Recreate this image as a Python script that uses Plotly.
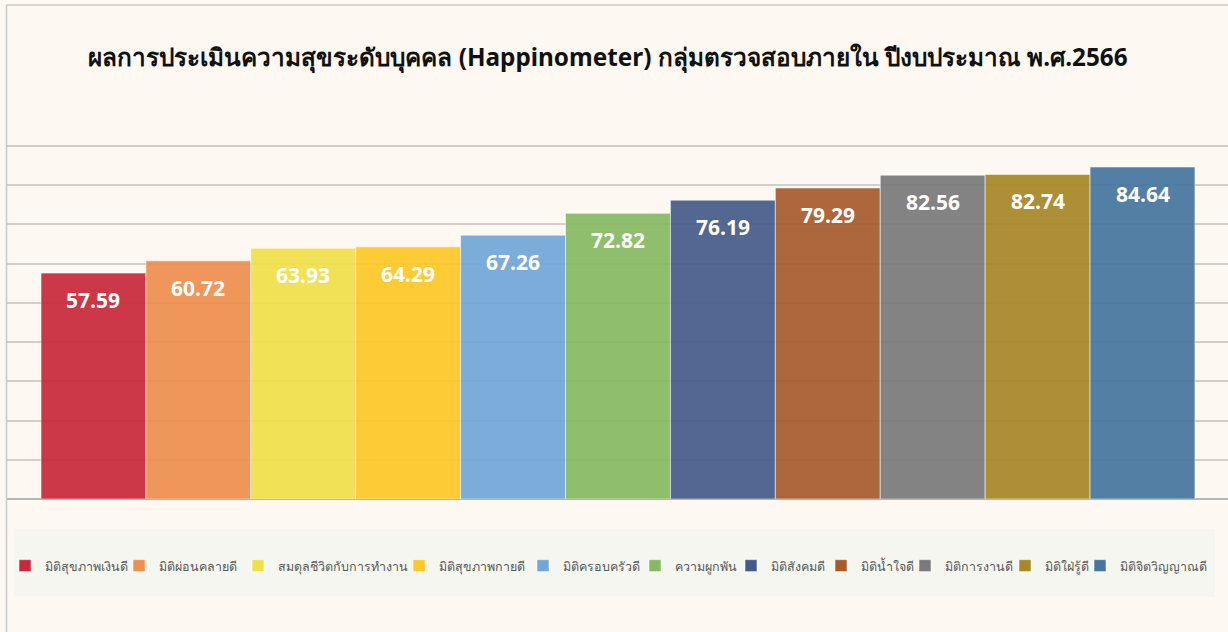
import plotly.graph_objects as go

title = "ผลการประเมินความสุขระดับบุคคล (Happinometer) กลุ่มตรวจสอบภายใน ปีงบประมาณ พ.ศ.2566"
categories = ["มิติสุขภาพเงินดี", "มิติผ่อนคลายดี", "สมดุลชีวิตกับการทำงาน", "มิติสุขภาพกายดี",
              "มิติครอบครัวดี", "ความผูกพัน", "มิติสังคมดี", "มิติน้ำใจดี",
              "มิติการงานดี", "มิติใฝ่รู้ดี", "มิติจิตวิญญาณดี"]
values = [57.59, 60.72, 63.93, 64.29, 67.26, 72.82, 76.19, 79.29, 82.56, 82.74, 84.64]
colors = ["#c9283a", "#ee8f4e", "#f0e04a", "#fec826", "#71a6d8", "#86b962",
          "#445b8a", "#a85a2e", "#7a7a7a", "#a78726", "#46759f"]
# legend marker positions (px) used for layout
legend_px = [25, 139, 258, 419, 543, 655, 751, 841, 925, 1025, 1100]

W, H = 1228, 632
L, R, T, B = 7, 0, 144, 133
pw, ph = W - L - R, H - T - B


def px_x(x):
    return (x - L) / pw


def px_y(y):
    return (H - B - y) / ph


fig = go.Figure()
annotations = []
legends = {}
for i, (name, v, c) in enumerate(zip(categories, values, colors)):
    lg = "legend" if i == 0 else f"legend{i + 1}"
    fig.add_trace(go.Bar(
        x=[i], y=[v], name=name, width=1, legend=lg,
        marker=dict(color=c, opacity=0.92, line=dict(color="rgba(255,255,255,0.55)", width=1)),
        hoverinfo="name+y",
    ))
    annotations.append(dict(
        x=i, y=v, xref="x", yref="y", text=f"<b>{v:.2f}</b>", showarrow=False,
        yshift=-27, yanchor="middle", xanchor="center",
        font=dict(color="white", size=21, family="Open Sans"),
    ))
    legends[lg] = dict(
        orientation="h", x=px_x(legend_px[i] - 10), xanchor="left", y=px_y(566), yanchor="middle",
        bgcolor="rgba(0,0,0,0)", borderwidth=0, indentation=-10,
        font=dict(size=12.5, color="#595959", family="Tahoma, sans-serif"),
        itemwidth=30,
    )

shapes = [
    dict(type="rect", xref="paper", yref="paper", x0=px_x(14), x1=px_x(1215), y0=px_y(597), y1=px_y(529),
         fillcolor="#f6f6f1", line=dict(width=0), layer="below"),
    dict(type="line", xref="paper", yref="paper", x0=px_x(6.5), x1=px_x(6.5), y0=px_y(640), y1=px_y(5),
         line=dict(color="#c8c8c8", width=1.5)),
    dict(type="line", xref="paper", yref="paper", x0=px_x(6.5), x1=px_x(1240), y0=px_y(5), y1=px_y(5),
         line=dict(color="#c8c8c8", width=1.5)),
]

fig.update_layout(
    width=W, height=H,
    margin=dict(l=L, r=R, t=T, b=B),
    paper_bgcolor="#fdf9f2", plot_bgcolor="#fdf9f2",
    barmode="overlay",
    title=dict(text="<b>" + title + "</b>", x=(608 - L) / pw, xref="paper", xanchor="center",
               y=1 - 57 / H, yanchor="middle",
               font=dict(size=24.3, color="#111111", family="Tahoma, Noto Sans, sans-serif")),
    xaxis=dict(range=[-0.824, 10.815], showticklabels=False, showgrid=False, zeroline=False,
               showline=False, fixedrange=True),
    yaxis=dict(range=[0, 90.5], tickvals=[10, 20, 30, 40, 50, 60, 70, 80, 90], showticklabels=False,
               showgrid=True, gridcolor="#d3cfc8",
               gridwidth=1.5, zeroline=True, zerolinecolor="#b5b5b5", zerolinewidth=1.5, showline=False,
               fixedrange=True),
    annotations=annotations,
    shapes=shapes,
    showlegend=True,
    **legends,
)

fig.write_html("out.html", post_script="document.body.style.margin='0';",
               config={"displayModeBar": False})
